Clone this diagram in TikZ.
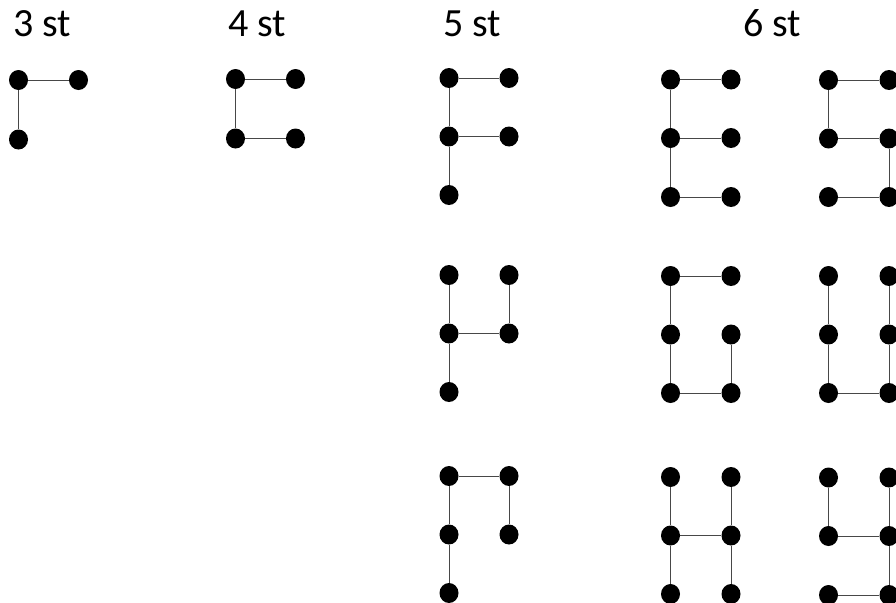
\documentclass[tikz,border=0pt]{standalone}
\usepackage{fontspec}
\setmainfont{Carlito}
\usetikzlibrary{shapes.geometric}
\tikzset{
  dot/.style={ellipse, fill=black, draw=none, inner sep=0pt, minimum width=19pt, minimum height=20pt},
  link/.style={draw=black!72, line width=1pt},
  title/.style={anchor=base west, inner sep=0pt, font=\fontsize{40}{48}\selectfont}
}
\newcommand\fivedots[5]{%
  \node[dot] (#1tl) at (#2,#4) {};
  \node[dot] (#1tr) at (#3,#4) {};
  \node[dot] (#1ml) at (#2,#4+58.5) {};
  \node[dot] (#1mr) at (#3,#4+58.5) {};
  \node[dot] (#1bl) at (#2,#5) {};
}
\newcommand\sixdots[5]{%
  \fivedots{#1}{#2}{#3}{#4}{#5}
  \node[dot] (#1br) at (#3,#5) {};
}
\begin{document}
\begin{tikzpicture}[x=1pt,y=-1pt]
\useasboundingbox (0,0) rectangle (896,602);
% titles
\node[title] (t3) at (13,37) {3 st};
\node[title] (t4) at (228,37) {4 st};
\node[title] (t5) at (443,37) {5 st};
\node[title] (t6) at (743,37) {6 st};
% 3 st
\node[dot] (atl) at (18.5,80) {};
\node[dot] (atr) at (78.5,80) {};
\node[dot] (abl) at (18.5,139.5) {};
% 4 st
\node[dot] (btl) at (235.5,79) {};
\node[dot] (btr) at (295.5,79) {};
\node[dot] (bbl) at (235.5,138.5) {};
\node[dot] (bbr) at (295.5,138.5) {};
% 5 st
\fivedots{c}{449}{509}{78}{195}
\fivedots{d}{449}{509}{275}{392}
\fivedots{e}{449}{509}{476}{593}
% 6 st
\sixdots{f}{670.5}{731}{79.5}{197}
\sixdots{g}{670.5}{731}{276}{393}
\sixdots{h}{670.5}{731}{477}{594}
\sixdots{i}{828.5}{889}{80}{197}
\sixdots{j}{828.5}{889}{276}{393}
\sixdots{k}{828.5}{889}{477.5}{595}
% links
\draw[link] (atl) -- (atr) (atl) -- (abl);
\draw[link] (btl) -- (btr) (btl) -- (bbl) (bbl) -- (bbr);
\draw[link] (ctl) -- (ctr) (ctl) -- (cml) (cml) -- (cmr) (cml) -- (cbl);
\draw[link] (dtl) -- (dml) (dml) -- (dmr) (dmr) -- (dtr) (dml) -- (dbl);
\draw[link] (etl) -- (etr) (etl) -- (eml) (eml) -- (ebl) (etr) -- (emr);
\draw[link] (ftl) -- (ftr) (ftl) -- (fml) (fml) -- (fmr) (fml) -- (fbl) (fbl) -- (fbr);
\draw[link] (gtl) -- (gtr) (gtl) -- (gml) (gml) -- (gbl) (gbl) -- (gbr) (gbr) -- (gmr);
\draw[link] (htl) -- (hml) (hml) -- (hbl) (hml) -- (hmr) (htr) -- (hmr) (hmr) -- (hbr);
\draw[link] (itl) -- (itr) (itl) -- (iml) (iml) -- (imr) (imr) -- (ibr) (ibl) -- (ibr);
\draw[link] (jtl) -- (jml) (jml) -- (jbl) (jbl) -- (jbr) (jbr) -- (jmr) (jmr) -- (jtr);
\draw[link] (ktl) -- (kml) (kml) -- (kmr) (ktr) -- (kmr) (kmr) -- (kbr) (kbl) -- (kbr);
\end{tikzpicture}
\end{document}
